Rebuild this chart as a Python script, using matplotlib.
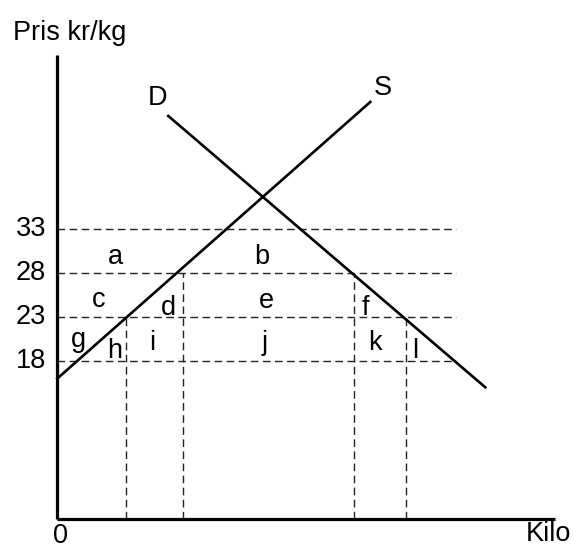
import matplotlib
matplotlib.use("Agg")
import matplotlib.pyplot as plt

# --- data ---
price_levels = [33, 28, 23, 18]
price_labels = ["33", "28", "23", "18"]
supply_q = [0.0, 31.3]
supply_p = [16.0, 47.5]
demand_q = [11.1, 42.8]
demand_p = [45.9, 15.0]
hline_end_q = 39.9
vline_q = [6.9, 12.6, 29.7, 34.9]
vline_p = [23, 28, 28, 23]
area_names = ["a", "b", "c", "d", "e", "f", "g", "h", "i", "j", "k", "l"]
area_q = [5.77, 20.44, 4.17, 11.1, 20.94, 30.77, 2.1, 5.77, 9.44, 20.77, 31.77, 35.77]
area_p = [29.04, 29.04, 24.18, 23.23, 24.03, 23.23, 19.62, 18.34, 19.25, 19.25, 19.25, 18.34]

plt.rcParams['font.family'] = ['Liberation Sans', 'DejaVu Sans']
FS = 19.5

fig = plt.figure(figsize=(5.73, 5.48), dpi=100)
ax = fig.add_axes([0, 0, 1, 1])
ax.set_xlim(-5.73, 51.57)
ax.set_ylim(-3.30, 59.11)
ax.axis('off')

dash = dict(color='#222222', lw=1.0, dashes=(5.5, 3.2))
for p in price_levels:
    ax.plot([0, hline_end_q], [p, p], **dash)
for q, p in zip(vline_q, vline_p):
    ax.plot([q, q], [0, p], **dash)

# axes
ax.plot([0, 0], [0, 52.85], color='black', lw=2.3, solid_capstyle='butt')
ax.plot([0, 49.8], [0, 0], color='black', lw=2.3, solid_capstyle='butt')

ax.plot(supply_q, supply_p, color='black', lw=1.9)
ax.plot(demand_q, demand_p, color='black', lw=1.9)

for p, lab in zip(price_levels, price_labels):
    ax.text(-2.63, p, lab, ha='center', va='center', fontsize=FS)

ax.text(0.27, -1.95, "0", ha='center', va='center', fontsize=FS)
ax.text(49.1, -1.75, "Kilo", ha='center', va='center', fontsize=FS)
ax.text(1.21, 54.55, "Pris kr/kg", ha='center', va='baseline', fontsize=FS)
ax.text(9.97, 47.95, "D", ha='center', va='center', fontsize=FS)
ax.text(32.6, 49.1, "S", ha='center', va='center', fontsize=FS)

for name, q, p in zip(area_names, area_q, area_p):
    ax.text(q, p, name, ha='center', va='baseline', fontsize=FS)

fig.savefig("out.png", dpi=100)
